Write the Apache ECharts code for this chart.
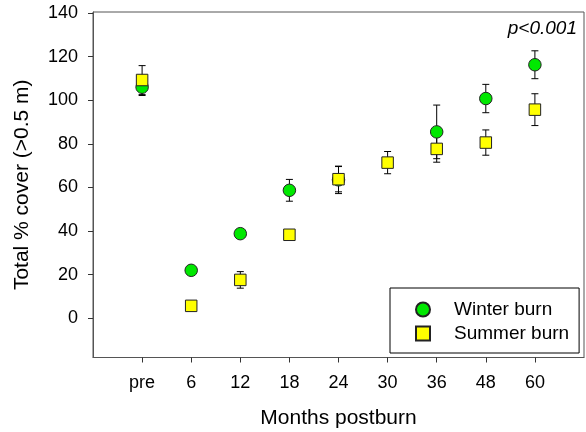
<!DOCTYPE html>
<html>
<head>
<meta charset="utf-8">
<script src="https://cdn.jsdelivr.net/npm/echarts@6/dist/echarts.min.js"></script>
<style>html,body{margin:0;padding:0;background:#fff}#c{width:586px;height:432px}</style>
</head>
<body>
<div id="c"></div>
<script>
const categories = ['pre', '6', '12', '18', '24', '30', '36', '48', '60'];
const winterMean = [106, 22, 38.8, 58.7, 63.5, null, 85.5, 100.8, 116.3];
const winterErr  = [3.8, 1.2, 1.2, 5, 6.3, null, 12.3, 6.5, 6.4];
const summerMean = [109.3, 5.7, 17.6, 38.3, 63.8, 71.4, 77.7, 80.6, 95.7];
const summerErr  = [6.6, 1.2, 3.8, 1.8, 5.8, 5.1, 6.1, 5.8, 7.3];
const yTicks = [0, 20, 40, 60, 80, 100, 120, 140];

const font = 'Liberation Sans, Arial, sans-serif';
const tickPos = categories.map((c, i) => i);

function pts(mean) {
  const out = [];
  mean.forEach((v, i) => { if (v !== null) out.push([i, v]); });
  return out;
}
function errs(mean, err) {
  const out = [];
  mean.forEach((v, i) => { if (v !== null) out.push([i, v, err[i]]); });
  return out;
}
function errRender(params, api) {
  const x = api.value(0), y = api.value(1), e = api.value(2);
  const top = api.coord([x, y + e]);
  const bot = api.coord([x, y - e]);
  const hw = 3.5;
  const st = { stroke: '#000', lineWidth: 1 };
  return {
    type: 'group',
    children: [
      { type: 'line', shape: { x1: top[0], y1: top[1], x2: bot[0], y2: bot[1] }, style: st },
      { type: 'line', shape: { x1: top[0] - hw, y1: top[1], x2: top[0] + hw, y2: top[1] }, style: st },
      { type: 'line', shape: { x1: bot[0] - hw, y1: bot[1], x2: bot[0] + hw, y2: bot[1] }, style: st }
    ]
  };
}

const chart = echarts.init(document.getElementById('c'), null, { renderer: 'canvas' });
chart.setOption({
  animation: false,
  textStyle: { fontFamily: font },
  grid: { left: 93, right: 2, top: 12, bottom: 74.5, show: true, borderColor: '#555', borderWidth: 1,
    containLabel: false, outerBoundsMode: 'none' },
  xAxis: {
    type: 'value', min: -1, max: 9,
    name: 'Months postburn', nameLocation: 'middle', nameGap: 50,
    nameTextStyle: { fontSize: 21, color: '#000', fontFamily: font },
    axisLine: { show: true, onZero: false, lineStyle: { color: '#555', width: 1 } },
    axisTick: { show: true, length: 5, lineStyle: { color: '#333' }, customValues: tickPos },
    axisLabel: { customValues: tickPos, margin: 17, fontSize: 18, color: '#000', fontFamily: font,
      formatter: v => categories[Math.round(v)] },
    splitLine: { show: false }
  },
  yAxis: {
    type: 'value', min: -18, max: 140.5,
    name: 'Total % cover (>0.5 m)', nameLocation: 'middle', nameGap: 60,
    nameTextStyle: { fontSize: 21, color: '#000', fontFamily: font },
    axisLine: { show: true, onZero: false, lineStyle: { color: '#555', width: 1 } },
    axisTick: { show: true, length: 5, lineStyle: { color: '#333' }, customValues: yTicks },
    axisLabel: { customValues: yTicks, margin: 15, fontSize: 18, color: '#000', fontFamily: font },
    splitLine: { show: false }
  },
  legend: {
    orient: 'vertical', left: 390, top: 288,
    padding: [12, 10, 10, 25],
    borderColor: '#000', borderWidth: 1,
    itemWidth: 14, itemHeight: 14, itemGap: 5,
    textStyle: { fontSize: 19, color: '#000', fontFamily: font, padding: [0, 0, 0, 19] },
    data: ['Winter burn', 'Summer burn']
  },
  graphic: [{
    type: 'text', right: 9, top: 19,
    style: { text: 'p<0.001', font: 'italic 19px ' + font, fill: '#000' }
  }],
  series: [
    { type: 'custom', name: 'wErr', data: errs(winterMean, winterErr), renderItem: errRender, z: 1, silent: true },
    { type: 'custom', name: 'sErr', data: errs(summerMean, summerErr), renderItem: errRender, z: 1, silent: true },
    { type: 'scatter', name: 'Winter burn', data: pts(winterMean), symbol: 'circle', symbolSize: 12.5,
      itemStyle: { color: '#00e800', borderColor: '#222', borderWidth: 1, opacity: 1 }, z: 3 },
    { type: 'scatter', name: 'Summer burn', data: pts(summerMean), symbol: 'rect', symbolSize: 11.5,
      itemStyle: { color: '#ffff00', borderColor: '#222', borderWidth: 1, opacity: 1 }, z: 4 }
  ]
});
</script>
</body>
</html>
